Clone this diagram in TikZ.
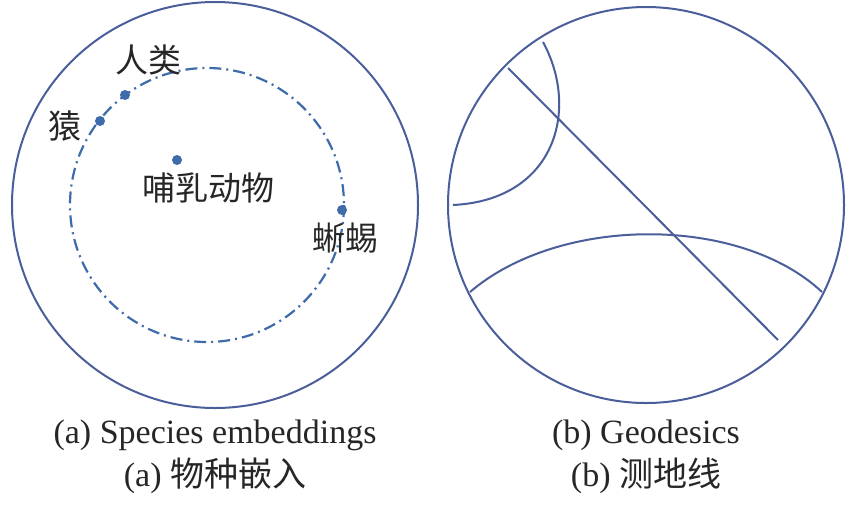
\documentclass[tikz,border=0pt]{standalone}
\usepackage{fontspec}
\setmainfont{Liberation Serif}
\newfontfamily\cjk{Noto Sans CJK SC}
\definecolor{ln}{HTML}{4A5E9C}
\definecolor{dt}{HTML}{3E6BAA}
\begin{document}
\begin{tikzpicture}[x=1pt,y=-1pt,
  geo/.style={draw=ln,line width=2pt},
  dotn/.style={circle,fill=dt,inner sep=0pt,minimum size=10pt},
  lab/.style={font=\cjk\fontsize{33}{38}\selectfont,text=black!85},
  captxt/.style={font=\fontsize{34}{40}\selectfont,text=black!85}]
\useasboundingbox (0,0) rectangle (864,515);
\fill[white] (0,0) rectangle (864,515);
\draw[geo] (215,205) circle[radius=203];
\draw[draw=dt,line width=2.2pt,dash pattern=on 12pt off 5pt on 2pt off 5pt] (207,205) circle[radius=137];
\node[dotn] (human) at (125,95) {};
\node[dotn] (ape) at (100,121) {};
\node[dotn] (mam) at (177,160) {};
\node[dotn] (liz) at (342,210) {};
\node[lab] (tH) at (148,60) {人类};
\node[lab] (tA) at (65,126) {猿};
\node[lab] (tM) at (208,188) {哺乳动物};
\node[lab] (tL) at (345,238) {蜥蜴};
\draw[geo] (646,205) circle[radius=198];
\coordinate (a1) at (508,68);
\coordinate (a2) at (778,340);
\draw[geo] (a1) -- (a2);
\coordinate (b1) at (543,42);
\coordinate (b2) at (453,205);
\draw[geo] (b1) .. controls (580,110) and (555,200) .. (b2);
\coordinate (c1) at (470,292);
\coordinate (c2) at (822,292);
\draw[geo] (c1) .. controls (560,215) and (740,215) .. (c2);
\node[captxt] (ca1) at (215,435) {(a) Species embeddings};
\node[captxt] (ca2) at (215,476) {(a) {\cjk 物种嵌入}};
\node[captxt] (cb1) at (646,435) {(b) Geodesics};
\node[captxt] (cb2) at (646,476) {(b) {\cjk 测地线}};
\end{tikzpicture}
\end{document}
